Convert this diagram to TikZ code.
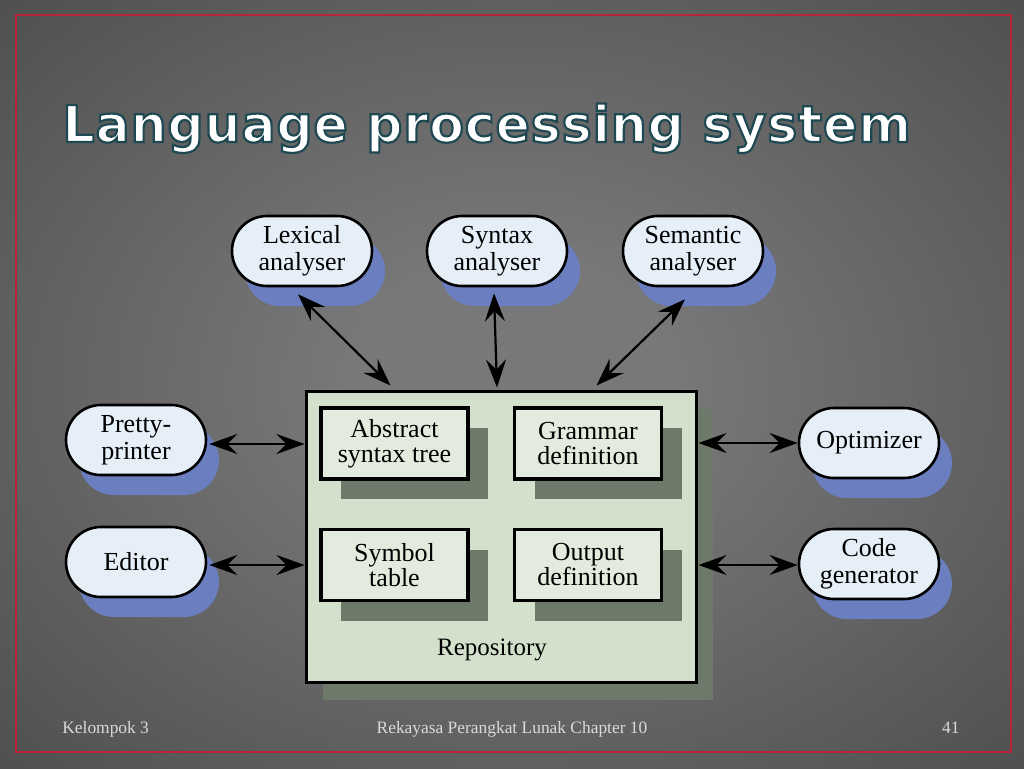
\documentclass[tikz,border=0pt]{standalone}
\usepackage{fontspec}
\setmainfont{Liberation Serif}
\newfontfamily\titlefont{DejaVu Sans}[LetterSpace=1.4]
\usetikzlibrary{arrows.meta,positioning,shapes.misc,shadows}
\definecolor{bgin}{HTML}{787878}
\definecolor{bgmid}{HTML}{3A3A3A}
\definecolor{bgout}{HTML}{282828}
\definecolor{framered}{HTML}{B8243A}
\definecolor{pillfill}{HTML}{E6EFF8}
\definecolor{pillshadow}{HTML}{6A7EC0}
\definecolor{repofill}{HTML}{D3E0CB}
\definecolor{reposhadow}{HTML}{6D7A69}
\definecolor{storefill}{HTML}{E3EBDE}
\definecolor{footgray}{HTML}{DADADA}
\pgfdeclareradialshading{slidebg}{\pgfpoint{0bp}{0bp}}{color(0bp)=(bgin); color(8bp)=(bgin); color(50bp)=(bgmid); color(72bp)=(bgout)}
% outlined title text (fill white, stroke dark teal)
\newcommand{\outlined}[1]{\special{pdf:literal direct 2 Tr 1.1 w 0.118 0.282 0.322 RG}#1\special{pdf:literal direct 0 Tr 1 G}}

\begin{document}
\begin{tikzpicture}[x=0.5pt,y=-0.5pt,
  pill/.style={rounded rectangle, draw=black, line width=1.3pt, fill=pillfill,
    minimum width=72pt, minimum height=35pt, inner sep=1pt, align=center,
    font=\fontsize{13}{13.5}\selectfont,
    general shadow={fill=pillshadow, shadow xshift=6.5pt, shadow yshift=-10pt}},
  repobox/.style={draw=black, line width=1.5pt, fill=repofill,
    minimum width=195pt, minimum height=145.5pt,
    general shadow={fill=reposhadow, shadow xshift=8.5pt, shadow yshift=-9pt}},
  store/.style={draw=black, line width=1.6pt, fill=storefill,
    minimum width=73.5pt, minimum height=35.5pt, inner sep=1pt, align=center,
    font=\fontsize{13}{12.5}\selectfont,
    general shadow={fill=reposhadow, shadow xshift=10pt, shadow yshift=-10pt}},
  dbl/.style={{Stealth[length=14pt,width=10pt,inset=5pt]}-{Stealth[length=14pt,width=10pt,inset=5pt]},
    line width=1.1pt, black},
  footer/.style={text=footgray, inner sep=0pt, font=\fontsize{8.7}{10}\selectfont}]
  \useasboundingbox (0,0) rectangle (1024,768);
  % Slide background and frame
  \shade[shading=slidebg] (0,0) rectangle (1024,768);
  \draw[framered, line width=1.1pt] (16,15) rectangle (1011,752);
  % Title
  \node[anchor=base west, inner sep=0pt, text=white,
    font=\titlefont\bfseries\fontsize{25.4}{30}\selectfont] (title) at (62,142)
    {\outlined{Language processing system}};
  % Repository with its stores
  \node[repobox] (repo) at (501,536.5) {};
  \node[store] (ast) at (394.5,443.5) {Abstract\\syntax tree};
  \node[store] (gram) at (588,443.5) {Grammar\\definition};
  \node[store] (symt) at (394.5,565) {Symbol\\table};
  \node[store] (outd) at (588,565) {Output\\definition};
  \node[font=\fontsize{12.5}{13}\selectfont] (repolabel) at (492,650) {Repository};
  % Tools round the repository
  \node[pill] (lex) at (302,251) {Lexical\\analyser};
  \node[pill] (syn) at (497,251) {Syntax\\analyser};
  \node[pill] (sem) at (693,251) {Semantic\\analyser};
  \node[pill] (pretty) at (136,440) {Pretty-\\printer};
  \node[pill] (editor) at (136,562) {Editor};
  \node[pill] (optim) at (869,443) {Optimizer};
  \node[pill] (codegen) at (869,564) {Code\\generator};
  % Connectors
  \draw[dbl] ([xshift=-2pt,yshift=-3.5pt]lex.south) -- ([xshift=43pt,yshift=2pt]repo.north west);
  \draw[dbl] ([xshift=-1.5pt,yshift=-3pt]syn.south) -- ([yshift=1pt]syn.south |- repo.north);
  \draw[dbl] ([xshift=-4pt,yshift=-6pt]sem.south) -- ([xshift=-50.5pt,yshift=2pt]repo.north east);
  \draw[dbl] ([xshift=1pt,yshift=-2pt]pretty.east) -- ([yshift=-2pt]pretty.east -| repo.west);
  \draw[dbl] ([xshift=1pt,yshift=-1.5pt]editor.east) -- ([yshift=-1.5pt]editor.east -| repo.west);
  \draw[dbl] ([xshift=0.5pt]optim.west -| repo.east) -- (optim.west);
  \draw[dbl] ([xshift=0.5pt,yshift=-0.5pt]codegen.west -| repo.east) -- ([yshift=-0.5pt]codegen.west);
  % Footer
  \node[footer, anchor=base west] (group) at (62,733) {Kelompok 3};
  \node[footer, anchor=base] (course) at (512,733) {Rekayasa Perangkat Lunak Chapter 10};
  \node[footer, anchor=base east] (page) at (960,733) {41};
\end{tikzpicture}
\end{document}
